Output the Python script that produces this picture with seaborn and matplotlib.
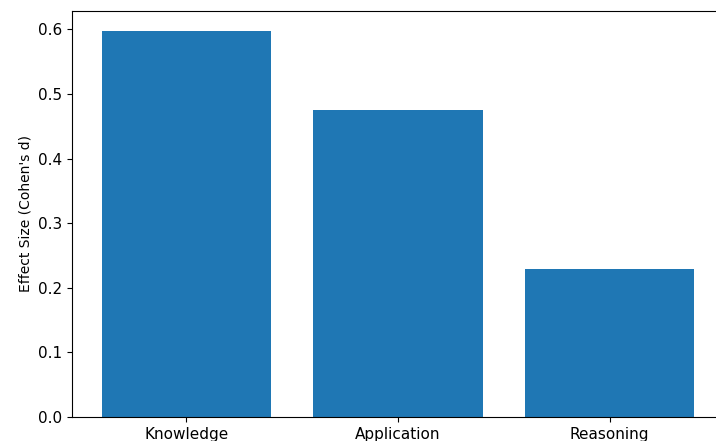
import matplotlib
matplotlib.use("Agg")
import matplotlib.pyplot as plt
import seaborn as sns
import pandas as pd

categories = ["Knowledge", "Application", "Reasoning"]
effect_sizes = [0.597, 0.476, 0.229]

df = pd.DataFrame({"category": categories, "effect": effect_sizes})

fig = plt.figure(figsize=(7.16, 4.41), dpi=100)
ax = fig.add_axes([72 / 716, 24 / 441, 652 / 716, 406 / 441])

sns.barplot(data=df, x="category", y="effect", color="#1f77b4",
            saturation=1, width=0.8, ax=ax, errorbar=None)

ax.set_xlim(-0.54, 2.54)
ax.set_ylim(0, 0.6285)
ax.set_xlabel("")
ax.set_ylabel("Effect Size (Cohen's d)", fontsize=10)
ax.tick_params(labelsize=11)
# the plot area runs past the right edge of the canvas
ax.spines["right"].set_visible(False)

fig.savefig("out.png", dpi=100)
